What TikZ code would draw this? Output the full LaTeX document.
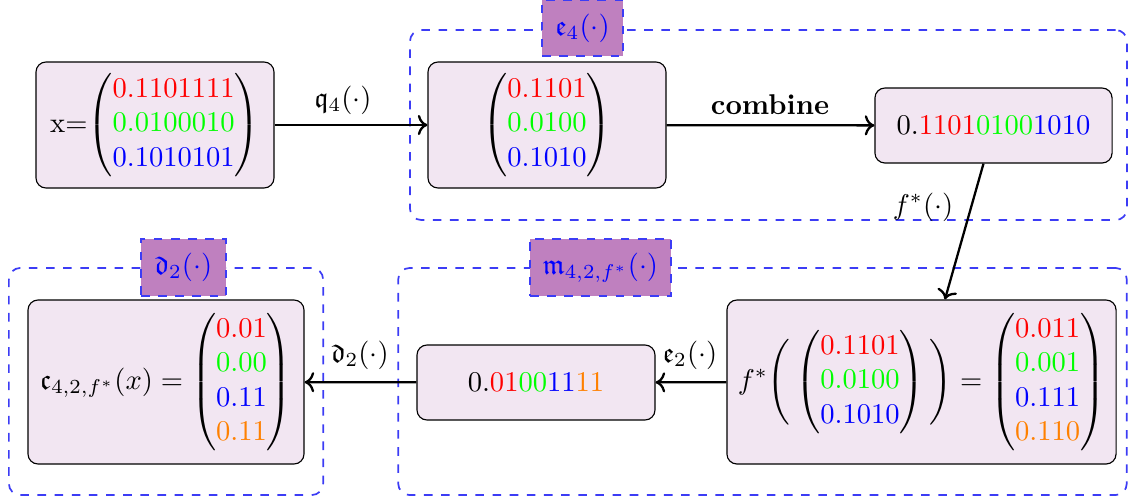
\documentclass[tikz,border=0pt]{standalone}
\usepackage{amsmath,amssymb}
\usetikzlibrary{arrows.meta,calc}
\definecolor{boxfill}{RGB}{242,230,242}
\definecolor{tagfill}{RGB}{191,128,191}
\definecolor{grp}{RGB}{60,60,245}
\newcommand{\R}[1]{\textcolor{red}{#1}}
\newcommand{\G}[1]{\textcolor{green}{#1}}
\newcommand{\B}[1]{\textcolor{blue}{#1}}
\newcommand{\Or}[1]{\textcolor{orange}{#1}}
\begin{document}
\begin{tikzpicture}[x=0.35pt,y=-0.35pt,
  stepbox/.style={draw=black,fill=boxfill,rounded corners=3.5pt,inner sep=0pt,align=center},
  grpbox/.style={draw=grp,dashed,semithick,rounded corners=4pt,inner sep=0pt},
  tagbox/.style={draw=grp,dashed,semithick,fill=tagfill,inner sep=0pt,text=blue},
  arr/.style={->,thick}]
\useasboundingbox (0,0) rectangle (1130,502);
% groups
\node[grpbox,minimum width=251pt,minimum height=66.5pt] (g1) at (768.5,125) {};
\node[grpbox,minimum width=255pt,minimum height=79.5pt] (g2) at (762.5,381.5) {};
\node[grpbox,minimum width=110pt,minimum height=79.5pt] (g3) at (166,381.5) {};
\node[tagbox,minimum width=28.4pt,minimum height=19.6pt] (t1) at (582.5,28) {$\mathfrak{e}_4(\cdot)$};
\node[tagbox,minimum width=49.4pt,minimum height=20pt] (t2) at (600.5,267.5) {$\mathfrak{m}_{4,2,f^*}(\cdot)$};
\node[tagbox,minimum width=29.75pt,minimum height=20pt] (t3) at (183.5,267.5) {$\mathfrak{d}_2(\cdot)$};
% boxes
\node[stepbox,minimum width=83.3pt,minimum height=44.1pt] (A) at (155,125)
  {x=$\begin{pmatrix}\R{0.1101111}\\ \G{0.0100010}\\ \B{0.1010101}\end{pmatrix}$};
\node[stepbox,minimum width=83.3pt,minimum height=44.1pt] (Bx) at (547,125)
  {$\begin{pmatrix}\R{0.1101}\\ \G{0.0100}\\ \B{0.1010}\end{pmatrix}$};
\node[stepbox,minimum width=83pt,minimum height=26.25pt] (C) at (993.5,125.5)
  {$0.\R{1101}\G{0100}\B{1010}$};
\node[stepbox,minimum width=136.2pt,minimum height=57.4pt] (D) at (921.5,382)
  {$f^*\Bigg(\begin{pmatrix}\R{0.1101}\\ \G{0.0100}\\ \B{0.1010}\end{pmatrix}\Bigg)=\begin{pmatrix}\R{0.011}\\ \G{0.001}\\ \B{0.111}\\ \Or{0.110}\end{pmatrix}$};
\node[stepbox,minimum width=83.3pt,minimum height=26.25pt] (E) at (536,382.5)
  {$0.\R{01}\G{00}\B{11}\Or{11}$};
\node[stepbox,minimum width=96.6pt,minimum height=57.4pt] (F) at (166,382)
  {$\mathfrak{c}_{4,2,f^*}(x) = \begin{pmatrix}\R{0.01}\\ \G{0.00}\\ \B{0.11}\\ \Or{0.11}\end{pmatrix}$};
% connectors
\draw[arr] (A) -- (Bx);
\node (lq) at (343,100) {$\mathfrak{q}_4(\cdot)$};
\draw[arr] (Bx) -- (C);
\node (lc) at (770,105) {\textbf{combine}};
\draw[arr] ([xshift=-3.5pt]C.south) -- ([xshift=8.2pt]D.north);
\node (lf) at (923,207) {$f^*(\cdot)$};
\draw[arr] (D) -- (E);
\node (le) at (690,355) {$\mathfrak{e}_2(\cdot)$};
\draw[arr] (E) -- (F);
\node (ld) at (360,355) {$\mathfrak{d}_2(\cdot)$};
\end{tikzpicture}
\end{document}
